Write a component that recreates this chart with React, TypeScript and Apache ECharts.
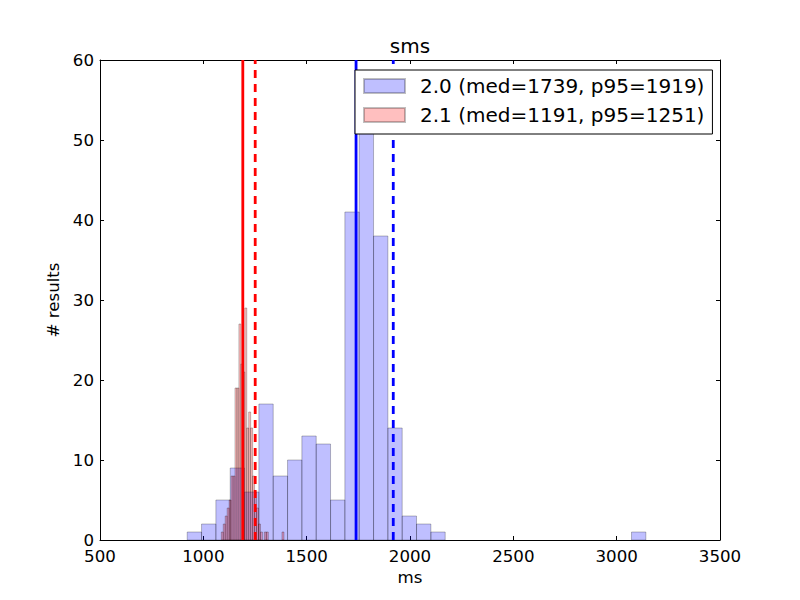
import React, { useEffect, useRef } from "react";
import * as echarts from "echarts";

// ---- data ----
const versions = ["2.0", "2.1"];
const medians = [1739, 1191];
const p95s = [1919, 1251];

// histogram of version 2.0 (32 bins)
const blueStart = 922;
const blueBinWidth = 69.35;
const blueCounts = [1, 2, 5, 9, 6, 17, 8, 10, 13, 12, 5, 41, 52, 38, 14, 3, 2, 1, 0, 0, 0, 0, 0, 0, 0, 0, 0, 0, 0, 0, 0, 1];

// histogram of version 2.1 (32 bins)
const redStart = 1087;
const redBinWidth = 9.47;
const redCounts = [1, 2, 3, 4, 5, 8, 8, 19, 19, 27, 22, 21, 29, 14, 16, 14, 8, 6, 4, 2, 1, 0, 1, 1, 0, 0, 0, 0, 0, 0, 0, 1];

const xTicks = { min: 500, max: 3500, interval: 500 };
const yTicks = { min: 0, max: 60, interval: 10 };

const FONT = "DejaVu Sans";

function binsOf(start: number, width: number, counts: number[]) {
  return counts
    .map((c, i) => [start + i * width, start + (i + 1) * width, c])
    .filter((d) => d[2] > 0);
}

const colors = [
  { fill: "rgba(0,0,255,0.25)", line: "#0000ff" },
  { fill: "rgba(255,0,0,0.25)", line: "#ff0000" },
];
const edge = "rgba(0,0,0,0.25)";

function histSeries(name: string, data: number[][], fill: string) {
  return {
    type: "custom",
    name,
    data,
    encode: { x: [0, 1], y: 2 },
    clip: true,
    itemStyle: { color: fill, borderColor: edge, borderWidth: 1 },
    renderItem: (params: any, api: any) => {
      const x0 = api.value(0);
      const x1 = api.value(1);
      const c = api.value(2);
      const a = api.coord([x0, c]);
      const b = api.coord([x1, 0]);
      return {
        type: "rect",
        shape: { x: a[0], y: a[1], width: b[0] - a[0], height: b[1] - a[1] },
        style: { fill, stroke: edge, lineWidth: 1 },
      };
    },
  };
}

function vline(v: number, color: string, dashed: boolean) {
  return {
    type: "line",
    data: [
      [v, yTicks.min],
      [v, yTicks.max],
    ],
    symbol: "none",
    silent: true,
    lineStyle: { color, width: 2.8, type: dashed ? [8, 6] : "solid" },
  };
}

export default function App() {
  const ref = useRef<HTMLDivElement>(null);
  useEffect(() => {
    const chart = echarts.init(ref.current!, null, { renderer: "svg" });
    const names = versions.map((v, i) => `${v} (med=${medians[i]}, p95=${p95s[i]})`);
    const axisCommon = {
      axisLine: { show: true, onZero: false, lineStyle: { color: "#000", width: 1 } },
      axisTick: { show: true, inside: true, length: 4, lineStyle: { color: "#000", width: 1 } },
      splitLine: { show: false },
    };
    const labelStyle = { color: "#000", fontSize: 16.67, fontFamily: FONT };
    const option: any = {
      animation: false,
      backgroundColor: "#ffffff",
      title: {
        text: "sms",
        left: 410,
        top: 36,
        padding: 0,
        textAlign: "center",
        textStyle: { fontSize: 20, fontWeight: "normal", color: "#000", fontFamily: FONT },
      },
      grid: { left: 100, right: 80, top: 60, bottom: 60, containLabel: false },
      xAxis: [
        {
          type: "value",
          ...xTicks,
          ...axisCommon,
          name: "ms",
          nameLocation: "middle",
          nameGap: 29,
          nameTextStyle: labelStyle,
          axisLabel: {
            ...labelStyle,
            lineHeight: 14,
            margin: 9,
            formatter: (v: number) => String(v),
          },
        },
        {
          type: "value",
          position: "top",
          ...xTicks,
          ...axisCommon,
          axisLabel: { show: false },
        },
      ],
      yAxis: [
        {
          type: "value",
          ...yTicks,
          ...axisCommon,
          name: "# results",
          nameLocation: "middle",
          nameGap: 34,
          nameRotate: 90,
          nameTextStyle: labelStyle,
          axisLabel: { ...labelStyle, lineHeight: 14, margin: 6, formatter: (v: number) => String(v) },
        },
        {
          type: "value",
          position: "right",
          ...yTicks,
          ...axisCommon,
          axisLabel: { show: false },
        },
      ],
      legend: {
        data: names.map((n) => ({ name: n, icon: "rect" })),
        orient: "vertical",
        left: 355,
        top: 70,
        padding: [6, 8, 9, 8],
        itemGap: 9,
        itemWidth: 41,
        itemHeight: 14,
        selectedMode: false,
        backgroundColor: "#ffffff",
        borderColor: "#000",
        borderWidth: 1,
        borderRadius: 0,
        textStyle: { fontSize: 20, fontFamily: FONT, color: "#000", padding: [0, 0, 0, 10] },
        z: 10,
      },
      series: [
        histSeries(names[0], binsOf(blueStart, blueBinWidth, blueCounts), colors[0].fill),
        histSeries(names[1], binsOf(redStart, redBinWidth, redCounts), colors[1].fill),
        vline(medians[0], colors[0].line, false),
        vline(p95s[0], colors[0].line, true),
        vline(medians[1], colors[1].line, false),
        vline(p95s[1], colors[1].line, true),
      ],
    };
    chart.setOption(option);
    return () => chart.dispose();
  }, []);
  return (
    <div
      ref={ref}
      style={{ position: "fixed", left: 0, top: 0, width: 800, height: 600, background: "#fff" }}
    />
  );
}
